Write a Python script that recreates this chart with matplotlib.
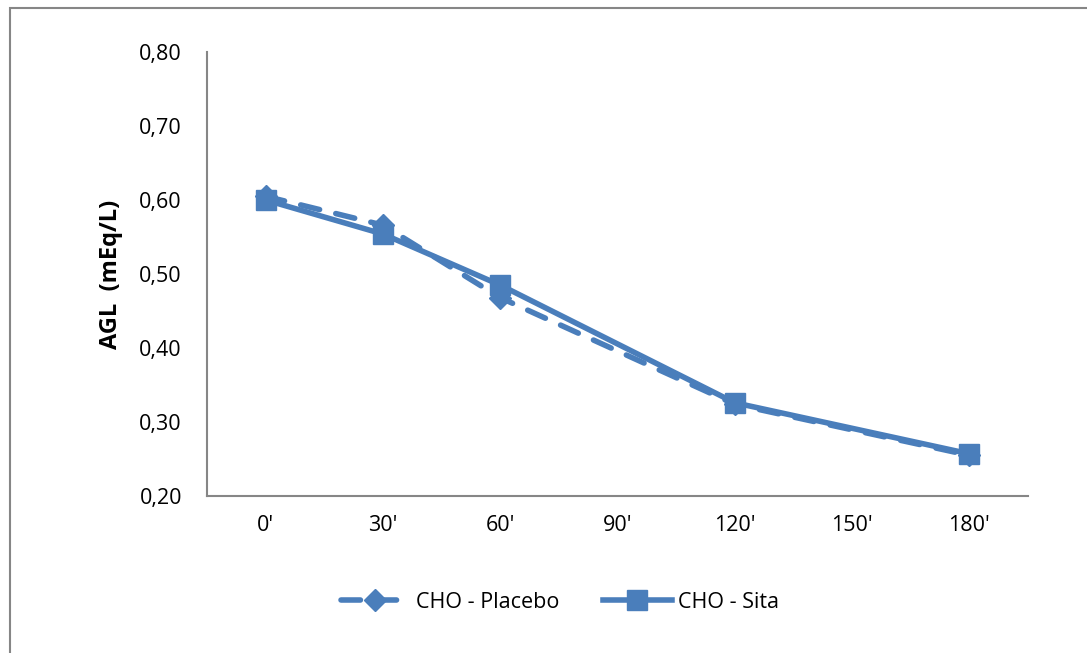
import matplotlib.pyplot as plt
from matplotlib.patches import Rectangle

plt.rcParams['font.family'] = ['Open Sans', 'DejaVu Sans']

categories = ["0'", "30'", "60'", "90'", "120'", "150'", "180'"]
measured_idx = [0, 1, 2, 4, 6]
placebo = [0.605, 0.566, 0.468, 0.324, 0.255]
sita = [0.600, 0.554, 0.485, 0.326, 0.257]

blue = '#4A7EBB'
axis_gray = '#868686'

fig = plt.figure(figsize=(10.87, 6.53), dpi=100)
ax = fig.add_axes([207 / 1087, 1 - 496 / 653, 821 / 1087, 444 / 653])

ax.plot(measured_idx, placebo, color=blue, lw=4, ls=(0, (3.5, 3)),
        marker='D', markersize=11, label='CHO - Placebo', dash_capstyle='round')
ax.plot(measured_idx, sita, color=blue, lw=4, marker='s', markersize=14,
        label='CHO - Sita')

ax.set_xlim(-0.5, 6.5)
ax.set_ylim(0.2, 0.8)
ax.set_xticks(range(len(categories)))
ax.set_xticklabels(categories)
ax.set_yticks([0.2, 0.3, 0.4, 0.5, 0.6, 0.7, 0.8])
ax.set_yticklabels(['0,20', '0,30', '0,40', '0,50', '0,60', '0,70', '0,80'])
ax.tick_params(length=0, labelsize=15.5, pad=18)
ax.tick_params(axis='x', pad=14)

for s in ['top', 'right']:
    ax.spines[s].set_visible(False)
for s in ['left', 'bottom']:
    ax.spines[s].set_color(axis_gray)
    ax.spines[s].set_linewidth(1.5)

ax.set_ylabel('AGL  (mEq/L)', fontsize=17, fontweight='bold', labelpad=12)

ax.legend(loc='center', bbox_to_anchor=(560 / 1087, 1 - 602 / 653),
          bbox_transform=fig.transFigure, ncol=2, frameon=False,
          fontsize=15.5, handlelength=3.2, columnspacing=2.0, handletextpad=0.3)

# chart frame
fig.patches.append(Rectangle((10 / 1087, -0.05), 1.2, 1 - 8 / 653 + 0.05,
                             transform=fig.transFigure, fill=False,
                             edgecolor=axis_gray, lw=1.5))

fig.savefig('out.png', dpi=100)
